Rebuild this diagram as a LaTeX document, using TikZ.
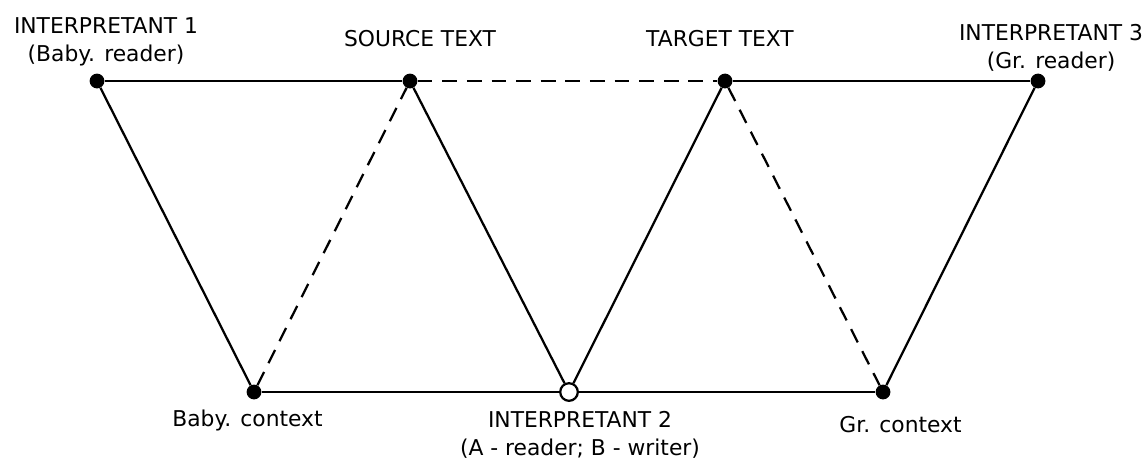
\documentclass[tikz,border=0pt]{standalone}
\usepackage{fontspec}
\setmainfont{DejaVu Sans}
\usepackage{tikz}
\usetikzlibrary{positioning}

\begin{document}
\begin{tikzpicture}[
  x=0.025cm, y=-0.025cm,
  dot/.style      = {circle, fill=black, inner sep=0pt, minimum size=0.37cm},
  opendot/.style  = {circle, draw=black, line width=1.6pt, fill=white,
                     inner sep=0pt, minimum size=0.44cm},
  lbl/.style      = {align=center, inner sep=0pt,
                     font=\fontsize{15.5}{20}\selectfont},
  lin/.style      = {line width=1.6pt},
  dsh/.style      = {line width=1.6pt, dash pattern=on 10.5pt off 7pt},
]
\useasboundingbox (0,0) rectangle (1148,461);

%% ── Top row ───────────────────────────────────────────────────────────────
\node[dot] (int1)   at (97,   81) {};
\node[dot] (source) at (410,  81) {};
\node[dot] (target) at (725,  81) {};
\node[dot] (int3)   at (1038, 81) {};

%% ── Bottom row ────────────────────────────────────────────────────────────
\node[dot]     (babyctx) at (254, 392) {};
\node[opendot] (int2)    at (569, 392) {};
\node[dot]     (grctx)   at (883, 392) {};

%% ── Labels ────────────────────────────────────────────────────────────────
\node[lbl] (int1lbl) at (106, 42)   {INTERPRETANT 1\\(Baby. reader)};
\node[lbl, anchor=base] (srclbl) at (420, 46.5) {SOURCE TEXT};
\node[lbl, anchor=base] (tgtlbl) at (720, 46.5) {TARGET TEXT};
\node[lbl] (int3lbl) at (1051, 48)  {INTERPRETANT 3\\(Gr. reader)};
\node[lbl, anchor=base] (babylbl) at (247.5, 426.5) {Baby. context};
\node[lbl] (int2lbl) at (580, 435)  {INTERPRETANT 2\\(A - reader; B - writer)};
\node[lbl, anchor=base] (grlbl) at (900.5, 432.5) {Gr. context};

%% ── Connectors ────────────────────────────────────────────────────────────
\draw[lin] (int1) -- (source);
\draw[dsh] (source) -- (target);
\draw[lin] (target) -- (int3);

\draw[lin] (babyctx) -- (int2);
\draw[lin] (int2) -- (grctx);

\draw[lin] (int1) -- (babyctx);
\draw[dsh] (babyctx) -- (source);
\draw[lin] (source) -- (int2);
\draw[lin] (int2) -- (target);
\draw[dsh] (target) -- (grctx);
\draw[lin] (grctx) -- (int3);

\end{tikzpicture}
\end{document}
